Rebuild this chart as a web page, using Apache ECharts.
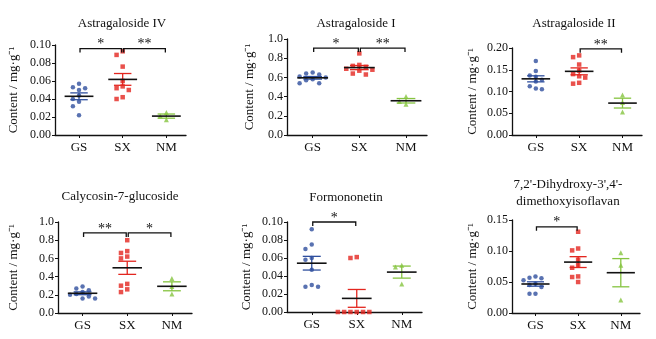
<!DOCTYPE html>
<html>
<head>
<meta charset="utf-8">
<script src="https://cdn.jsdelivr.net/npm/echarts@6/dist/echarts.min.js"></script>
<style>
  html, body { margin: 0; background: #fff; }
  #main { width: 656px; height: 339px; }
</style>
</head>
<body>
<div id="main"></div>
<script>
// groups and panel titles
var groups = ['GS', 'SX', 'NM'];
var titles = ['Astragaloside IV', 'Astragaloside I', 'Astragaloside II',
  'Calycosin-7-glucoside', 'Formononetin', "7,2'-Dihydroxy-3',4'-\ndimethoxyisoflavan"];

// content, mg/g, one value per sample
var as4GS = [0.057, 0.053, 0.052, 0.050, 0.044, 0.040, 0.037, 0.032, 0.022];
var as4SX = [0.093, 0.089, 0.076, 0.060, 0.054, 0.052, 0.050, 0.042, 0.040];
var as4NM = [0.025, 0.021, 0.017];

var as1GS = [0.65, 0.64, 0.63, 0.61, 0.60, 0.58, 0.57, 0.54, 0.54];
var as1SX = [0.85, 0.73, 0.72, 0.71, 0.69, 0.68, 0.67, 0.64, 0.63];
var as1NM = [0.40, 0.35, 0.32];

var as2GS = [0.170, 0.147, 0.137, 0.134, 0.127, 0.123, 0.112, 0.107, 0.105];
var as2SX = [0.183, 0.179, 0.162, 0.148, 0.140, 0.135, 0.132, 0.120, 0.118];
var as2NM = [0.092, 0.075, 0.053];

var cgGS = [0.29, 0.27, 0.25, 0.23, 0.21, 0.20, 0.18, 0.16, 0.16];
var cgSX = [0.80, 0.68, 0.66, 0.62, 0.60, 0.32, 0.30, 0.26, 0.23];
var cgNM = [0.38, 0.29, 0.21];

var fmGS = [0.092, 0.075, 0.070, 0.060, 0.058, 0.047, 0.030, 0.028, 0.028];
var fmSX = [0.061, 0.060, 0, 0, 0, 0, 0, 0];
var fmNM = [0.052, 0.050, 0.031];

var dhGS = [0.059, 0.057, 0.056, 0.053, 0.047, 0.045, 0.042, 0.031, 0.031];
var dhSX = [0.131, 0.104, 0.101, 0.086, 0.077, 0.073, 0.059, 0.058, 0.050];
var dhNM = [0.097, 0.077, 0.021];

// significance brackets: [from group, to group, level, label]
var as4Sig = [[1, 2, 0.096, '*'], [2, 3, 0.096, '**']];
var as1Sig = [[1, 2, 0.905, '*'], [2, 3, 0.905, '**']];
var as2Sig = [[2, 3, 0.198, '**']];
var cgSig = [[1, 2, 0.88, '**'], [2, 3, 0.88, '*']];
var fmSig = [[1, 2, 0.10, '*']];
var dhSig = [[1, 2, 0.139, '*']];

// y axis ranges
var yMax = [0.10, 1.0, 0.20, 1.0, 0.10, 0.15];
var yStep = [0.02, 0.2, 0.05, 0.2, 0.02, 0.05];
var yDigits = [2, 1, 2, 1, 2, 2];

var colors = ['#2f4f9e', '#e3261f', '#86c440'];
var symbols = ['circle', 'rect', 'triangle'];
var font = '"Liberation Serif", "Times New Roman", serif';

var panelData = [
  [as4GS, as4SX, as4NM], [as1GS, as1SX, as1NM], [as2GS, as2SX, as2NM],
  [cgGS, cgSX, cgNM], [fmGS, fmSX, fmNM], [dhGS, dhSX, dhNM]
];
var panelSig = [as4Sig, as1Sig, as2Sig, cgSig, fmSig, dhSig];

var grids = [
  { left: 55, top: 45, width: 131, height: 90 },
  { left: 287, top: 39, width: 140, height: 96 },
  { left: 512, top: 48, width: 130, height: 87 },
  { left: 58, top: 222, width: 134, height: 91 },
  { left: 287, top: 222, width: 135, height: 90 },
  { left: 512, top: 220, width: 128, height: 93 }
];
var nameGaps = [35, 31, 33, 38, 34, 33];
var titlePos = [[122, 15], [356, 15], [574, 15], [120, 188], [346, 189], [568, 176]];

// spread overlapping dots sideways (simple beeswarm)
function spread(vals, range) {
  var thr = range * 0.055, step = 0.14, placed = [];
  return vals.map(function (v) {
    var k = 0, off;
    for (;;) {
      off = (k % 2 ? -1 : 1) * Math.ceil(k / 2) * step;
      var hit = placed.some(function (p) {
        return Math.abs(p[0] - v) < thr && Math.abs(p[1] - off) < step * 0.9;
      });
      if (!hit) break;
      k++;
    }
    placed.push([v, off]);
    return off;
  });
}

function meanSem(vals) {
  var n = vals.length, m = 0, s = 0;
  vals.forEach(function (v) { m += v; });
  m /= n;
  vals.forEach(function (v) { s += (v - m) * (v - m); });
  return [m, Math.sqrt(s / (n - 1)) / Math.sqrt(n)];
}

function statsItem(params, api) {
  var x = api.value(0), m = api.value(1), s = api.value(2);
  var c = colors[Math.round(x) - 1];
  function pt(dx, y) { return api.coord([x + dx, y]); }
  function seg(a, b, col, w) {
    return { type: 'line', shape: { x1: a[0], y1: a[1], x2: b[0], y2: b[1] }, style: { stroke: col, lineWidth: w } };
  }
  return {
    type: 'group',
    children: [
      seg(pt(0, m + s), pt(0, m - s), c, 1.3),
      seg(pt(-0.2, m + s), pt(0.2, m + s), c, 1.3),
      seg(pt(-0.2, m - s), pt(0.2, m - s), c, 1.3),
      seg(pt(-0.33, m), pt(0.33, m), '#111', 1.6)
    ]
  };
}

function makeBracket(sig) {
  return function (params, api) {
    var a = api.coord([api.value(0), api.value(2)]);
    var b = api.coord([api.value(1), api.value(2)]);
    return {
      type: 'group',
      children: [
        { type: 'polyline', shape: { points: [[a[0] + 1, a[1] + 4], [a[0] + 1, a[1]], [b[0] - 1, b[1]], [b[0] - 1, b[1] + 4]] },
          style: { stroke: '#111', lineWidth: 1.3, fill: null } },
        { type: 'text', x: (a[0] + b[0]) / 2, y: a[1] + 3,
          style: { text: sig[params.dataIndex][3], fill: '#111', font: '14px ' + font, align: 'center', verticalAlign: 'bottom' } }
      ]
    };
  };
}

var option = {
  backgroundColor: '#fff',
  animation: false,
  title: titles.map(function (t, i) {
    return { text: t, left: titlePos[i][0], top: titlePos[i][1], textAlign: 'center', padding: 0,
      textStyle: { fontFamily: font, fontSize: 13, fontWeight: 'normal', color: '#111', lineHeight: 17 } };
  }),
  grid: grids,
  xAxis: grids.map(function (g, i) {
    return {
      type: 'value', gridIndex: i, min: 0.45, max: 3.45,
      splitLine: { show: false },
      axisLine: { lineStyle: { color: '#111', width: 1.3 } },
      axisTick: { customValues: [1, 2, 3], length: 3, lineStyle: { color: '#111' } },
      axisLabel: { customValues: [1, 2, 3], margin: 6, color: '#111', fontFamily: font, fontSize: 13,
        formatter: function (v) { return groups[Math.round(v) - 1]; } }
    };
  }),
  yAxis: grids.map(function (g, i) {
    return {
      type: 'value', gridIndex: i, min: 0, max: yMax[i], interval: yStep[i],
      name: 'Content / mg·g⁻¹', nameLocation: 'middle', nameGap: nameGaps[i],
      nameTextStyle: { fontFamily: font, fontSize: 13, color: '#111' },
      splitLine: { show: false },
      axisLine: { show: true, lineStyle: { color: '#111', width: 1.3 } },
      axisTick: { show: true, length: 3, lineStyle: { color: '#111' } },
      axisLabel: { margin: 4, color: '#111', fontFamily: font, fontSize: 12,
        formatter: function (v) { return v.toFixed(yDigits[i]); } }
    };
  }),
  series: []
};

panelData.forEach(function (sets, i) {
  sets.forEach(function (vals, g) {
    var offs = spread(vals, yMax[i]);
    option.series.push({
      type: 'scatter', xAxisIndex: i, yAxisIndex: i,
      symbol: symbols[g], symbolSize: g === 2 ? 5 : 4.5,
      itemStyle: { color: colors[g] },
      data: vals.map(function (v, k) { return [g + 1 + offs[k], v]; })
    });
  });
  option.series.push({
    type: 'custom', xAxisIndex: i, yAxisIndex: i, z: 5, renderItem: statsItem,
    data: sets.map(function (vals, g) { var ms = meanSem(vals); return [g + 1, ms[0], ms[1]]; })
  });
  option.series.push({
    type: 'custom', xAxisIndex: i, yAxisIndex: i, z: 5, clip: false,
    renderItem: makeBracket(panelSig[i]),
    data: panelSig[i].map(function (s) { return [s[0], s[1], s[2]]; })
  });
});

var chart = echarts.init(document.getElementById('main'));
chart.setOption(option);
</script>
</body>
</html>
